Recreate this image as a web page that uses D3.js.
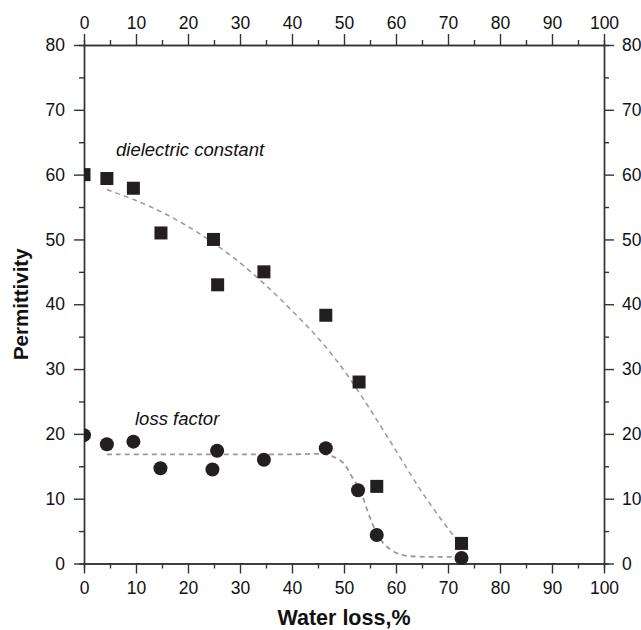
<!DOCTYPE html>
<html>
<head>
<meta charset="utf-8">
<script src="https://cdn.jsdelivr.net/npm/d3@7"></script>
<style>
  body { margin: 0; background: #fff; }
  svg { display: block; font-family: "Liberation Sans", Arial, sans-serif; }
</style>
</head>
<body>
<div id="chart"></div>
<script>
const dielX = [0, 4.4, 9.5, 14.8, 24.9, 25.7, 34.6, 46.5, 52.9, 56.3, 72.6];
const dielY = [60, 59.4, 57.9, 51.0, 50.0, 43.0, 45.0, 38.3, 28.0, 11.9, 3.1];

const lossX = [0, 4.4, 9.5, 14.7, 24.7, 25.6, 34.6, 46.5, 52.7, 56.3, 72.6];
const lossY = [19.8, 18.4, 18.8, 14.7, 14.5, 17.4, 16.0, 17.8, 11.3, 4.4, 0.85];

// fitted (dashed) curves
const dielFitX = [4.4, 10, 15, 20, 25, 30, 35, 40, 45, 50, 55, 60, 65, 70, 72.9];
const dielFitY = [57.7, 56.0, 54.2, 52.0, 49.4, 46.4, 42.9, 39.0, 34.8, 29.8, 23.8, 17.4, 11.0, 5.4, 2.6];

const lossFitX = [4.4, 20, 40, 46.5, 47.9, 49.9, 51.5, 53.1, 54.7, 56, 57.9, 60.8, 64.6, 72.3];
const lossFitY = [16.85, 16.85, 16.85, 16.85, 16.5, 15.5, 13.4, 11.3, 7.7, 5.2, 2.85, 1.4, 1.05, 1.05];

const xTicks = [0, 10, 20, 30, 40, 50, 60, 70, 80, 90, 100];
const yTicks = [0, 10, 20, 30, 40, 50, 60, 70, 80];
const xMinor = [5, 15, 25, 35, 45, 55, 65, 75, 85, 95];
const yMinor = [5, 15, 25, 35, 45, 55, 65, 75];

const width = 641;
const height = 630;
const margin = ({top: 45, right: 37, bottom: 66.5, left: 84});

const svg = d3.select("#chart").append("svg")
    .attr("width", width)
    .attr("height", height);

const x = d3.scaleLinear().domain([0, 100]).range([margin.left, width - margin.right]);
const y = d3.scaleLinear().domain([0, 80]).range([height - margin.bottom, margin.top]);

const axisColor = "#333";
const tickFont = 17.5;

function styleAxis(g) {
    g.select(".domain").attr("stroke", axisColor).attr("stroke-width", 1.4);
    g.selectAll(".tick line").attr("stroke", axisColor).attr("stroke-width", 1.4);
    g.selectAll(".tick text").attr("fill", "#111").attr("font-size", tickFont)
        .attr("font-family", "Liberation Sans, Arial, sans-serif");
}

// bottom
svg.append("g")
    .attr("transform", `translate(0,${y(0)})`)
    .call(d3.axisBottom(x).tickValues(xTicks).tickSize(10).tickSizeOuter(0).tickPadding(8))
    .call(styleAxis);
svg.append("g")
    .attr("transform", `translate(0,${y(0)})`)
    .call(d3.axisBottom(x).tickValues(xMinor).tickSize(5).tickFormat(""))
    .call(styleAxis);

// top
svg.append("g")
    .attr("transform", `translate(0,${y(80)})`)
    .call(d3.axisTop(x).tickValues(xTicks).tickSize(11).tickSizeOuter(0).tickPadding(5))
    .call(styleAxis);
svg.append("g")
    .attr("transform", `translate(0,${y(80)})`)
    .call(d3.axisTop(x).tickValues(xMinor).tickSize(5).tickFormat(""))
    .call(styleAxis);

// left
svg.append("g")
    .attr("transform", `translate(${x(0)},0)`)
    .call(d3.axisLeft(y).tickValues(yTicks).tickSize(10).tickSizeOuter(0).tickPadding(9))
    .call(styleAxis);
svg.append("g")
    .attr("transform", `translate(${x(0)},0)`)
    .call(d3.axisLeft(y).tickValues(yMinor).tickSize(5).tickFormat(""))
    .call(styleAxis);

// right
svg.append("g")
    .attr("transform", `translate(${x(100)},0)`)
    .call(d3.axisRight(y).tickValues(yTicks).tickSize(10).tickSizeOuter(0).tickPadding(8))
    .call(styleAxis);
svg.append("g")
    .attr("transform", `translate(${x(100)},0)`)
    .call(d3.axisRight(y).tickValues(yMinor).tickSize(5).tickFormat(""))
    .call(styleAxis);

// axis titles
svg.append("text")
    .attr("x", (x(0) + x(100)) / 2)
    .attr("y", 625)
    .attr("text-anchor", "middle")
    .attr("font-weight", "bold")
    .attr("font-size", 21.5)
    .attr("fill", "#111")
    .text("Water loss,%");

svg.append("text")
    .attr("transform", `translate(28,${(y(0) + y(80)) / 2}) rotate(-90)`)
    .attr("text-anchor", "middle")
    .attr("font-weight", "bold")
    .attr("font-size", 20.5)
    .attr("fill", "#111")
    .text("Permittivity");

// clip to plot area
svg.append("clipPath").attr("id", "plotclip")
  .append("rect")
    .attr("x", x(0)).attr("y", y(80))
    .attr("width", x(100) - x(0)).attr("height", y(0) - y(80) + 2);

const plot = svg.append("g").attr("clip-path", "url(#plotclip)");

const line = d3.line()
    .x(d => x(d[0]))
    .y(d => y(d[1]))
    .curve(d3.curveCatmullRom);

plot.append("path")
    .datum(d3.zip(dielFitX, dielFitY))
    .attr("d", line)
    .attr("fill", "none")
    .attr("stroke", "#999")
    .attr("stroke-width", 1.5)
    .attr("stroke-dasharray", "5,4");

plot.append("path")
    .datum(d3.zip(lossFitX, lossFitY))
    .attr("d", line)
    .attr("fill", "none")
    .attr("stroke", "#999")
    .attr("stroke-width", 1.8)
    .attr("stroke-dasharray", "5,4");

const markColor = "#231f20";
const sq = 13;

plot.selectAll(".sq")
    .data(d3.zip(dielX, dielY))
    .enter().append("rect")
    .attr("class", "sq")
    .attr("x", d => x(d[0]) - sq / 2)
    .attr("y", d => y(d[1]) - sq / 2)
    .attr("width", sq)
    .attr("height", sq)
    .attr("fill", markColor);

plot.selectAll(".dot")
    .data(d3.zip(lossX, lossY))
    .enter().append("circle")
    .attr("class", "dot")
    .attr("cx", d => x(d[0]))
    .attr("cy", d => y(d[1]))
    .attr("r", 7)
    .attr("fill", markColor);

// labels
svg.append("text")
    .attr("x", 116)
    .attr("y", 156)
    .attr("font-style", "italic")
    .attr("font-size", 18.5)
    .attr("fill", "#111")
    .text("dielectric constant");

svg.append("text")
    .attr("x", 135)
    .attr("y", 425)
    .attr("font-style", "italic")
    .attr("font-size", 18.5)
    .attr("fill", "#111")
    .text("loss factor");
</script>
</body>
</html>
